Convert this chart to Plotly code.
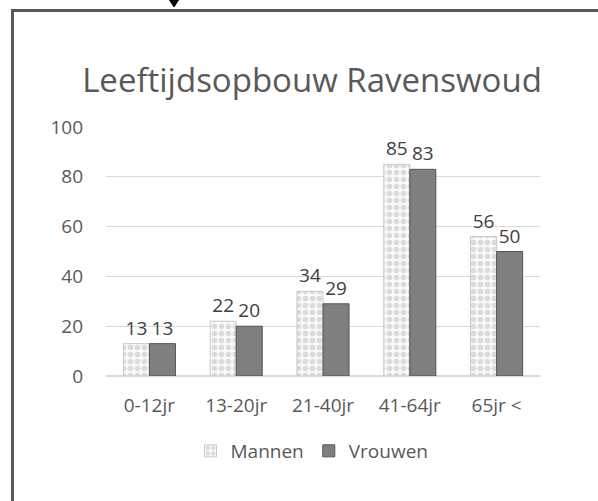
import plotly.graph_objects as go

categories = ["0-12jr", "13-20jr", "21-40jr", "41-64jr", "65jr <"]
mannen = [13, 22, 34, 85, 56]
vrouwen = [13, 20, 29, 83, 50]
y_ticks = [0, 20, 40, 60, 80, 100]

W, H = 598, 501
L, R, T, B = 106, 58, 127, 125
pw, ph = W - L - R, H - T - B

def px2paper_x(px):
    return (px - L) / pw

def px2paper_y(py):
    return (H - B - py) / ph

FONT = "Open Sans"
TXT = "#595959"

fig = go.Figure()
fig.add_trace(go.Bar(
    name="Mannen", x=categories, y=mannen,
    marker=dict(color="#f4f4f4",
                line=dict(color="#c9c9c9", width=1),
                pattern=dict(shape=".", fgcolor="#bdbdbd", bgcolor="#f9f9f9",
                             size=7, solidity=0.5)),
    text=mannen, textposition="outside",
    textfont=dict(family=FONT, size=19, color="#404040"),
    cliponaxis=False,
))
fig.add_trace(go.Bar(
    name="Vrouwen", x=categories, y=vrouwen,
    marker=dict(color="#7f7f7f", line=dict(color="#555555", width=1)),
    text=vrouwen, textposition="outside",
    textfont=dict(family=FONT, size=19, color="#404040"),
    cliponaxis=False,
))

fig.update_layout(
    width=W, height=H,
    margin=dict(l=L, r=R, t=T, b=B),
    paper_bgcolor="white", plot_bgcolor="white",
    barmode="group", bargap=0.4, bargroupgap=0,
    font=dict(family=FONT, color=TXT),
    title=dict(text="Leeftijdsopbouw Ravenswoud",
               font=dict(family=FONT, size=33, color=TXT),
               x=312 / W, xanchor="center", xref="container",
               y=1 - 80 / H, yanchor="middle", yref="container"),
    legend=dict(orientation="h", x=px2paper_x(312), xanchor="center",
                y=px2paper_y(432), yanchor="top",
                font=dict(family=FONT, size=19, color=TXT),
                itemwidth=30, tracegroupgap=0),
    showlegend=True,
)
fig.update_xaxes(showgrid=False, showline=False, zeroline=False,
                 tickfont=dict(family=FONT, size=19, color=TXT),
                 ticks="", ticklabelstandoff=16)
fig.update_yaxes(range=[0, 100], tickvals=y_ticks,
                 showgrid=True, gridcolor="#d9d9d9", gridwidth=1,
                 zeroline=True, zerolinecolor="#d9d9d9",
                 showline=False, ticks="",
                 tickfont=dict(family=FONT, size=19, color=TXT),
                 ticklabelstandoff=22)

# outer frame (cut off at right and bottom of the screenshot)
fig.add_shape(type="rect", xref="paper", yref="paper",
              x0=px2paper_x(12.5), x1=px2paper_x(W + 20),
              y0=px2paper_y(H + 20), y1=px2paper_y(10.5),
              line=dict(color="#595959", width=3), fillcolor="rgba(0,0,0,0)",
              layer="above")
# small marker arrow at top
fig.add_shape(type="path", xref="paper", yref="paper",
              path="M {a},{b} L {c},{b} L {d},{e} Z".format(
                  a=px2paper_x(169.5), c=px2paper_x(178.5), b=px2paper_y(0),
                  d=px2paper_x(174), e=px2paper_y(7)),
              fillcolor="black", line=dict(color="black", width=1),
              layer="above")

fig.write_html("out.html", config={"displayModeBar": False},
               post_script="document.body.style.margin='0';document.body.style.overflow='hidden';")
